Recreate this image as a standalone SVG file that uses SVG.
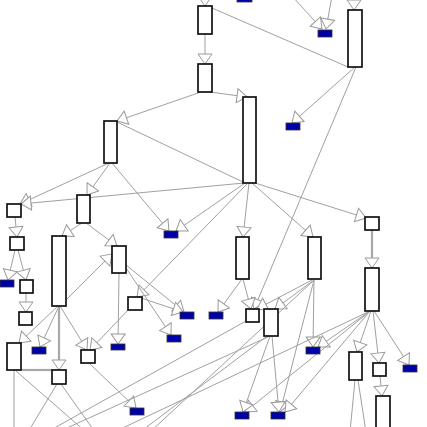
<svg xmlns="http://www.w3.org/2000/svg" width="427" height="427" viewBox="0 0 427 427">
<style>
.n{fill:#fff;stroke:#111;stroke-width:1.7}
.b{fill:#0000a8;stroke:#333;stroke-width:0.8}
.e{stroke:#a0a0a0;stroke-width:1;fill:none;marker-end:url(#ah)}
.p{stroke:#a0a0a0;stroke-width:1;fill:none}
.t{stroke:#a8a8a8;stroke-width:2.2;fill:none}
</style>
<defs>
<marker id="ah" markerUnits="userSpaceOnUse" markerWidth="13" markerHeight="16" refX="11" refY="8" orient="auto">
<path d="M1,1 L11,8 L1,15 Z" fill="#fff" stroke="#9a9a9a" stroke-width="1"/>
</marker>
</defs>
<rect width="427" height="427" fill="#fff"/>
<g id="connectors">
<line class="e" x1="205" y1="-20" x2="205" y2="6"/>
<line class="e" x1="205" y1="34" x2="205" y2="64"/>
<line class="p" x1="348" y1="67" x2="212" y2="8"/>
<line class="e" x1="354" y1="-20" x2="354" y2="10"/>
<line class="e" x1="292" y1="-4" x2="322" y2="29"/>
<line class="e" x1="332" y1="-4" x2="326" y2="29"/>
<line class="e" x1="210" y1="92" x2="247" y2="97"/>
<line class="e" x1="201" y1="92" x2="117" y2="121"/>
<line class="p" x1="245" y1="183" x2="117" y2="122"/>
<line class="e" x1="355" y1="67" x2="292" y2="123"/>
<line class="e" x1="356" y1="67" x2="254" y2="309"/>
<line class="e" x1="109" y1="163" x2="20" y2="204"/>
<line class="e" x1="244" y1="183" x2="21" y2="204"/>
<line class="e" x1="110" y1="163" x2="87" y2="195"/>
<line class="e" x1="112" y1="163" x2="169" y2="231"/>
<line class="e" x1="245" y1="183" x2="176" y2="231"/>
<line class="e" x1="249" y1="183" x2="243" y2="237"/>
<line class="e" x1="252" y1="183" x2="313" y2="237"/>
<line class="e" x1="255" y1="183" x2="366" y2="218"/>
<line class="e" x1="247" y1="184" x2="137" y2="297"/>
<line class="e" x1="15" y1="217" x2="17" y2="237"/>
<line class="e" x1="15" y1="250" x2="8" y2="280"/>
<line class="e" x1="18" y1="250" x2="26" y2="280"/>
<line class="e" x1="82" y1="223" x2="62" y2="236"/>
<line class="e" x1="86" y1="223" x2="117" y2="246"/>
<line class="e" x1="60" y1="306" x2="112" y2="254"/>
<line class="e" x1="26" y1="293" x2="26" y2="312"/>
<line class="e" x1="58" y1="306" x2="19" y2="343"/>
<line class="e" x1="59" y1="306" x2="40" y2="347"/>
<line class="e" x1="60" y1="306" x2="87" y2="350"/>
<line class="t" x1="59" y1="306" x2="59" y2="362"/>
<line class="e" x1="59" y1="360" x2="59" y2="370"/>
<line class="t" x1="21" y1="370" x2="52" y2="370"/>
<line class="e" x1="119" y1="273" x2="118" y2="344"/>
<line class="e" x1="126" y1="265" x2="184" y2="312"/>
<line class="e" x1="126" y1="268" x2="171" y2="335"/>
<line class="e" x1="141" y1="298" x2="183" y2="312"/>
<line class="e" x1="130" y1="308" x2="90" y2="350"/>
<line class="e" x1="242" y1="279" x2="218" y2="312"/>
<line class="e" x1="243" y1="279" x2="251" y2="309"/>
<line class="e" x1="314" y1="279" x2="313" y2="347"/>
<line class="e" x1="314" y1="280" x2="275" y2="309"/>
<line class="e" x1="312" y1="280" x2="257" y2="309"/>
<line class="e" x1="314" y1="280" x2="280" y2="412"/>
<line class="t" x1="372" y1="230" x2="372" y2="260"/>
<line class="e" x1="372" y1="258" x2="372" y2="268"/>
<line class="e" x1="371" y1="311" x2="357" y2="352"/>
<line class="e" x1="373" y1="311" x2="379" y2="363"/>
<line class="e" x1="374" y1="311" x2="409" y2="365"/>
<line class="e" x1="380" y1="376" x2="382" y2="396"/>
<line class="e" x1="370" y1="311" x2="318" y2="347"/>
<line class="e" x1="370" y1="311" x2="285" y2="412"/>
<line class="e" x1="369" y1="312" x2="245" y2="412"/>
<line class="e" x1="270" y1="336" x2="243" y2="412"/>
<line class="e" x1="272" y1="336" x2="279" y2="412"/>
<line class="e" x1="89" y1="363" x2="136" y2="408"/>
<line class="p" x1="268" y1="337" x2="58" y2="432"/>
<line class="p" x1="266" y1="337" x2="140" y2="432"/>
<line class="p" x1="246" y1="321" x2="40" y2="436"/>
<line class="p" x1="313" y1="281" x2="150" y2="432"/>
<line class="p" x1="368" y1="312" x2="110" y2="434"/>
<line class="p" x1="14" y1="370" x2="14" y2="432"/>
<line class="p" x1="16" y1="371" x2="86" y2="432"/>
<line class="p" x1="57" y1="384" x2="28" y2="432"/>
<line class="p" x1="61" y1="384" x2="95" y2="432"/>
<line class="p" x1="355" y1="380" x2="350" y2="432"/>
<line class="p" x1="358" y1="380" x2="366" y2="432"/>
</g>
<g id="nA"><rect class="n" x="198" y="6" width="14" height="28"/></g>
<g id="nB"><rect class="n" x="198" y="64" width="14" height="28"/></g>
<g id="nC"><rect class="n" x="243" y="97" width="13" height="86"/></g>
<g id="nD"><rect class="n" x="348" y="10" width="14" height="57"/></g>
<g id="nF"><rect class="n" x="104" y="121" width="13" height="42"/></g>
<g id="nG"><rect class="n" x="7" y="204" width="14" height="13"/></g>
<g id="nH"><rect class="n" x="77" y="195" width="13" height="28"/></g>
<g id="nI"><rect class="n" x="10" y="237" width="14" height="13"/></g>
<g id="nJ"><rect class="n" x="52" y="236" width="14" height="70"/></g>
<g id="nK"><rect class="n" x="112" y="246" width="14" height="27"/></g>
<g id="nL"><rect class="n" x="236" y="237" width="13" height="42"/></g>
<g id="nM"><rect class="n" x="308" y="237" width="13" height="42"/></g>
<g id="nN"><rect class="n" x="365" y="217" width="14" height="13"/></g>
<g id="nO"><rect class="n" x="365" y="268" width="14" height="43"/></g>
<g id="nP"><rect class="n" x="20" y="280" width="13" height="13"/></g>
<g id="nQ"><rect class="n" x="19" y="312" width="13" height="13"/></g>
<g id="nR"><rect class="n" x="7" y="343" width="14" height="27"/></g>
<g id="nS"><rect class="n" x="52" y="370" width="14" height="14"/></g>
<g id="nT"><rect class="n" x="81" y="350" width="14" height="13"/></g>
<g id="nU"><rect class="n" x="128" y="297" width="14" height="13"/></g>
<g id="nE"><rect class="n" x="246" y="309" width="13" height="13"/></g>
<g id="nV"><rect class="n" x="264" y="309" width="14" height="27"/></g>
<g id="nW"><rect class="n" x="349" y="352" width="13" height="28"/></g>
<g id="nX"><rect class="n" x="373" y="363" width="13" height="13"/></g>
<g id="nY"><rect class="n" x="376" y="396" width="14" height="40"/></g>
<g id="b1"><rect class="b" x="237" y="-5" width="15" height="7"/></g>
<g id="b2"><rect class="b" x="318" y="30" width="14" height="7"/></g>
<g id="b3"><rect class="b" x="286" y="123" width="14" height="7"/></g>
<g id="b4"><rect class="b" x="164" y="231" width="14" height="7"/></g>
<g id="b5"><rect class="b" x="0" y="280" width="14" height="7"/></g>
<g id="b6"><rect class="b" x="32" y="347" width="14" height="7"/></g>
<g id="b7"><rect class="b" x="111" y="344" width="14" height="6"/></g>
<g id="b8"><rect class="b" x="180" y="312" width="14" height="7"/></g>
<g id="b9"><rect class="b" x="167" y="335" width="14" height="7"/></g>
<g id="b10"><rect class="b" x="209" y="312" width="14" height="7"/></g>
<g id="b11"><rect class="b" x="306" y="347" width="14" height="7"/></g>
<g id="b12"><rect class="b" x="403" y="365" width="14" height="7"/></g>
<g id="b13"><rect class="b" x="235" y="412" width="14" height="7"/></g>
<g id="b14"><rect class="b" x="271" y="412" width="14" height="7"/></g>
<g id="b15"><rect class="b" x="130" y="408" width="14" height="7"/></g>
</svg>
